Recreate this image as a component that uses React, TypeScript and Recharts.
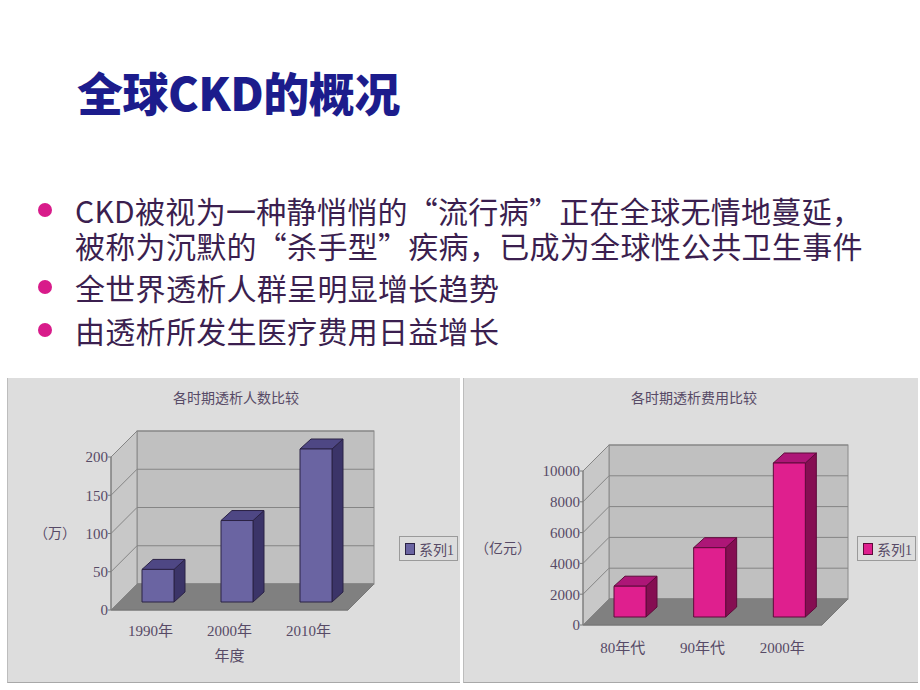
import React from "react";
import {
  Bar,
  BarChart,
  CartesianGrid,
  Label,
  ReferenceArea,
  XAxis,
  YAxis,
} from "recharts";

// slide text (first bullet wraps onto two lines)
const slideTitle = "全球CKD的概况";
const bulletItems = [
  ["CKD被视为一种静悄悄的“流行病”正在全球无情地蔓延，", "被称为沉默的“杀手型”疾病，已成为全球性公共卫生事件"],
  ["全世界透析人群呈明显增长趋势"],
  ["由透析所发生医疗费用日益增长"],
];

// chart 1: dialysis patients (万)
const peopleYears = ["1990年", "2000年", "2010年"];
const peopleValues = [42.6, 106.5, 200];
const peopleTicks = [0, 50, 100, 150, 200];

// chart 2: dialysis cost (亿元)
const costPeriods = ["80年代", "90年代", "2000年"];
const costValues = [2000, 4500, 10000];
const costTicks = [0, 2000, 4000, 6000, 8000, 10000];

const SERIF = "'Liberation Serif', 'Noto Sans CJK SC', serif";
const TEXT = "#574a66";
const DEPTH_X = 26;
const DEPTH_Y = -26;

function Walls(props: any) {
  const { x, y, width, height } = props;
  const b = y + height;
  return (
    <g>
      <rect
        x={x + DEPTH_X}
        y={y + DEPTH_Y}
        width={width}
        height={height}
        fill="#c0c0c0"
        stroke="#8a8a8a"
      />
      <polygon
        points={`${x},${y} ${x + DEPTH_X},${y + DEPTH_Y} ${x + DEPTH_X},${b + DEPTH_Y} ${x},${b}`}
        fill="#c8c8c8"
        stroke="#8a8a8a"
      />
      <polygon
        points={`${x},${b} ${x + DEPTH_X},${b + DEPTH_Y} ${x + width + DEPTH_X},${b + DEPTH_Y} ${x + width},${b}`}
        fill="#808080"
        stroke="#777"
      />
    </g>
  );
}

function GridLine3D(props: any) {
  const { x1, y1, x2 } = props;
  return (
    <polyline
      key={props.key ?? `${y1}`}
      points={`${x1},${y1} ${x1 + DEPTH_X},${y1 + DEPTH_Y} ${x2 + DEPTH_X},${y1 + DEPTH_Y}`}
      fill="none"
      stroke="#858585"
      strokeWidth={1}
    />
  );
}

function makeBar3D(front: string, side: string, top: string, edge: string) {
  return function Bar3D(props: any) {
    const { x, y, width, height } = props;
    const fx = x + 7;
    const fy = y - 8;
    const bx = 11;
    const by = -10;
    return (
      <g stroke={edge} strokeWidth={1} strokeLinejoin="round">
        <polygon
          points={`${fx + width},${fy} ${fx + width + bx},${fy + by} ${fx + width + bx},${fy + height + by} ${fx + width},${fy + height}`}
          fill={side}
        />
        <polygon
          points={`${fx},${fy} ${fx + bx},${fy + by} ${fx + width + bx},${fy + by} ${fx + width},${fy}`}
          fill={top}
        />
        <rect x={fx} y={fy} width={width} height={height} fill={front} />
      </g>
    );
  };
}

const PeopleBar = makeBar3D("#6a64a2", "#3b3468", "#4e4784", "#2b2245");
const CostBar = makeBar3D("#df1f8e", "#850e52", "#ad1677", "#5e0a3a");

function LegendBox({ color, edge, left, top }: any) {
  return (
    <div
      style={{
        position: "absolute",
        left,
        top,
        width: 59,
        height: 25,
        border: "1px solid #9a9a9a",
        boxSizing: "border-box",
        display: "flex",
        alignItems: "center",
        paddingLeft: 5,
        gap: 4,
        fontFamily: SERIF,
        fontSize: 14,
        color: TEXT,
        whiteSpace: "nowrap",
      }}
    >
      <span
        style={{
          display: "inline-block",
          width: 8,
          height: 10,
          background: color,
          border: `1px solid ${edge}`,
        }}
      />
      <span>系列1</span>
    </div>
  );
}

function Panel({ left, width, children }: any) {
  return (
    <div
      style={{
        position: "absolute",
        left,
        top: 378,
        width,
        height: 305,
        background: "#dddddd",
        borderLeft: "1px solid #bdbdbd",
        borderBottom: "1px solid #a8a8a8",
        boxSizing: "border-box",
      }}
    >
      {children}
    </div>
  );
}

function ChartTitle({ text, center }: any) {
  return (
    <div
      style={{
        position: "absolute",
        left: center - 90,
        width: 180,
        top: 9,
        textAlign: "center",
        fontFamily: SERIF,
        fontSize: 14,
        color: TEXT,
      }}
    >
      {text}
    </div>
  );
}

export default function App() {
  const peopleData = peopleYears.map((year, i) => ({ name: year, value: peopleValues[i] }));
  const costData = costPeriods.map((p, i) => ({ name: p, value: costValues[i] }));
  const tick = { fill: TEXT, fontSize: 15, fontFamily: SERIF };
  const itemTops = [210, 287, 330];

  return (
    <div
      style={{
        position: "absolute",
        left: 0,
        top: 0,
        width: 920,
        height: 690,
        background: "#ffffff",
        overflow: "hidden",
      }}
    >
      <div
        style={{
          position: "absolute",
          left: 77,
          top: 66,
          fontFamily: "'Noto Sans CJK SC', sans-serif",
          fontWeight: 900,
          fontSize: 46,
          lineHeight: "50px",
          letterSpacing: -0.5,
          color: "#1c1c8c",
          whiteSpace: "nowrap",
        }}
      >
        {slideTitle}
      </div>

      {bulletItems.map((lines, i) => (
        <div key={i}>
          <span
            style={{
              position: "absolute",
              left: 38,
              top: itemTops[i] - 7,
              width: 14,
              height: 14,
              borderRadius: 7,
              background: "#d81b8a",
            }}
          />
          <div
            style={{
              position: "absolute",
              left: 75,
              top: itemTops[i] - 17.5,
              lineHeight: "35px",
              fontFamily: "'Noto Sans CJK SC', sans-serif",
              fontSize: 30,
              letterSpacing: 0.3,
              color: "#3b1f4f",
              whiteSpace: "nowrap",
            }}
          >
            {lines.map((t, j) => (
              <React.Fragment key={j}>
                {j > 0 && <br />}
                {t}
              </React.Fragment>
            ))}
          </div>
        </div>
      ))}

      <Panel left={7} width={453}>
        <ChartTitle text="各时期透析人数比较" center={228} />
        <BarChart
          width={452}
          height={305}
          data={peopleData}
          margin={{ top: 79, right: 112, bottom: 33, left: 0 }}
        >
          <ReferenceArea y1={0} y2={200} shape={Walls} zIndex={-200} />
          <CartesianGrid vertical={false} horizontal={GridLine3D} zIndex={-150} />
          <XAxis
            dataKey="name"
            height={40}
            tick={tick}
            tickLine={false}
            tickMargin={9}
            axisLine={{ stroke: "#7a7a7a" }}
          >
            <Label value="年度" position="bottom" offset={0} fill={TEXT} fontSize={15} fontFamily={SERIF} />
          </XAxis>
          <YAxis
            width={103}
            domain={[0, 200]}
            ticks={peopleTicks}
            tick={tick}
            tickSize={3}
            tickMargin={0}
            axisLine={{ stroke: "#7a7a7a" }}
            tickLine={{ stroke: "#7a7a7a" }}
          >
            <Label value="（万）" position="insideLeft" offset={26} fill={TEXT} fontSize={14} fontFamily={SERIF} />
          </YAxis>
          <Bar dataKey="value" barSize={32} shape={PeopleBar} isAnimationActive={false} />
        </BarChart>
        <LegendBox color="#6a64a2" edge="#2b2245" left={391} top={158} />
      </Panel>

      <Panel left={463} width={455}>
        <ChartTitle text="各时期透析费用比较" center={230} />
        <BarChart
          width={454}
          height={305}
          data={costData}
          margin={{ top: 93, right: 96, bottom: 18, left: 0 }}
        >
          <ReferenceArea y1={0} y2={10000} shape={Walls} zIndex={-200} />
          <CartesianGrid vertical={false} horizontal={GridLine3D} zIndex={-150} />
          <XAxis
            dataKey="name"
            height={40}
            tick={tick}
            tickLine={false}
            tickMargin={11}
            axisLine={{ stroke: "#7a7a7a" }}
          />
          <YAxis
            width={119}
            domain={[0, 10000]}
            ticks={costTicks}
            tick={tick}
            tickSize={3}
            tickMargin={0}
            axisLine={{ stroke: "#7a7a7a" }}
            tickLine={{ stroke: "#7a7a7a" }}
          >
            <Label value="（亿元）" position="insideLeft" offset={11} fill={TEXT} fontSize={14} fontFamily={SERIF} />
          </YAxis>
          <Bar dataKey="value" barSize={32} shape={CostBar} isAnimationActive={false} />
        </BarChart>
        <LegendBox color="#df1f8e" edge="#5e0a3a" left={393} top={158} />
      </Panel>
    </div>
  );
}
